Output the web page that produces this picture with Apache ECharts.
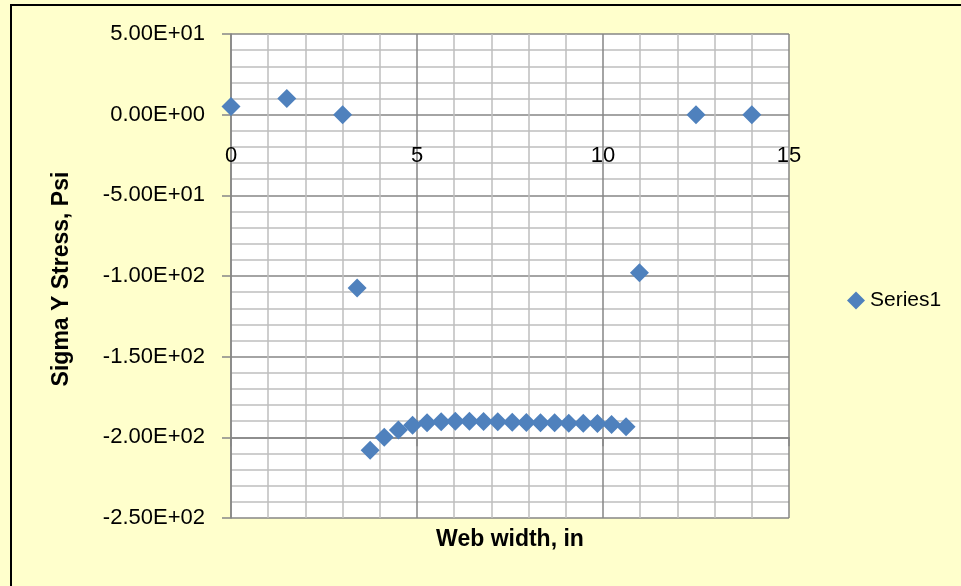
<!DOCTYPE html>
<html>
<head>
<meta charset="utf-8">
<script src="https://cdn.jsdelivr.net/npm/echarts@6/dist/echarts.min.js"></script>
<style>
html,body{margin:0;padding:0;background:#FFFFCC;}
#chart{width:961px;height:586px;}
</style>
</head>
<body>
<div id="chart"></div>
<script>
// Data
var seriesName = 'Series1';
var xValues = [0, 1.5, 3.0, 3.39, 3.74, 4.12, 4.50, 4.88, 5.27, 5.65, 6.03, 6.41, 6.79, 7.17, 7.56, 7.94, 8.32, 8.70, 9.08, 9.47, 9.85, 10.23, 10.62, 10.98, 12.5, 14.0];
var yValues = [5, 10, 0, -107.5, -208, -200, -195.5, -192.5, -191, -190.3, -190, -190, -190.2, -190.4, -190.6, -190.8, -191, -191, -191.2, -191.3, -191.5, -192, -193.5, -98, 0, 0];
var yTickValues = [50, 0, -50, -100, -150, -200, -250];
var yTickLabels = ['5.00E+01', '0.00E+00', '-5.00E+01', '-1.00E+02', '-1.50E+02', '-2.00E+02', '-2.50E+02'];
var xTickValues = [0, 5, 10, 15];
var xTickLabels = ['0', '5', '10', '15'];
var xTitle = 'Web width, in';
var yTitle = 'Sigma Y Stress, Psi';

var points = xValues.map(function (x, i) { return [x, yValues[i]]; });
var font = 'Liberation Sans, Arial, sans-serif';
var GRID_TOP = 34, GRID_H = 484;

var chart = echarts.init(document.getElementById('chart'));
chart.setOption({
  backgroundColor: '#FFFFCC',
  animation: false,
  grid: { left: 231, top: GRID_TOP, width: 558, height: GRID_H, show: true, backgroundColor: '#FFFFFF', borderWidth: 0 },
  legend: {
    left: 842, top: 285,
    itemWidth: 18, itemHeight: 18, itemGap: 6,
    data: [{ name: seriesName, icon: 'diamond' }],
    textStyle: { fontFamily: font, fontSize: 21, color: '#000' }
  },
  xAxis: {
    type: 'value', min: 0, max: 15, interval: 5,
    axisLine: { onZero: true, lineStyle: { color: '#868686', width: 1.5 } },
    axisTick: { show: true, inside: false, length: 9, lineStyle: { color: '#868686', width: 1.5 } },
    axisLabel: {
      margin: 30, fontFamily: font, fontSize: 22, color: '#000',
      formatter: function (v) { var i = xTickValues.indexOf(v); return i >= 0 ? xTickLabels[i] : ''; }
    },
    splitLine: { show: true, lineStyle: { color: '#868686', width: 1.5 } },
    minorTick: { show: false, splitNumber: 5 },
    minorSplitLine: { show: true, lineStyle: { color: '#BFBFBF', width: 1.5 } }
  },
  yAxis: {
    type: 'value', min: -250, max: 50, interval: 50,
    axisLine: { show: true, onZero: false, lineStyle: { color: '#868686', width: 1.5 } },
    axisTick: { show: true, inside: false, length: 9, lineStyle: { color: '#868686', width: 1.5 } },
    axisLabel: {
      margin: 26, fontFamily: font, fontSize: 22, color: '#000',
      formatter: function (v) { var i = yTickValues.indexOf(v); return i >= 0 ? yTickLabels[i] : ''; }
    },
    splitLine: { show: true, lineStyle: { color: '#868686', width: 1.5 } },
    minorTick: { show: false, splitNumber: 5 },
    minorSplitLine: { show: true, lineStyle: { color: '#BFBFBF', width: 1.5 } }
  },
  series: [{
    name: seriesName,
    type: 'scatter',
    symbol: 'diamond',
    symbolSize: 19,
    itemStyle: { color: '#4F81BD', opacity: 1 },
    data: points
  }],
  graphic: [
    { type: 'rect', shape: { x: 11, y: 5, width: 1000, height: 700 }, style: { fill: 'none', stroke: '#000', lineWidth: 2 }, z: 100, silent: true },
    { type: 'text', x: 62, y: 279, rotation: Math.PI / 2,
      style: { text: yTitle, fontFamily: font, fontSize: 23, fontWeight: 'bold', fill: '#000', textAlign: 'center', textVerticalAlign: 'middle' } },
    { type: 'text', x: 510, y: 540,
      style: { text: xTitle, fontFamily: font, fontSize: 23, fontWeight: 'bold', fill: '#000', textAlign: 'center', textVerticalAlign: 'middle' } }
  ]
});

// Place the x axis on the y = 0 line (as in the reference), using the library's own scale
var zeroY = chart.convertToPixel({ yAxisIndex: 0 }, 0);
chart.setOption({ xAxis: { offset: zeroY - (GRID_TOP + GRID_H) } });
</script>
</body>
</html>
